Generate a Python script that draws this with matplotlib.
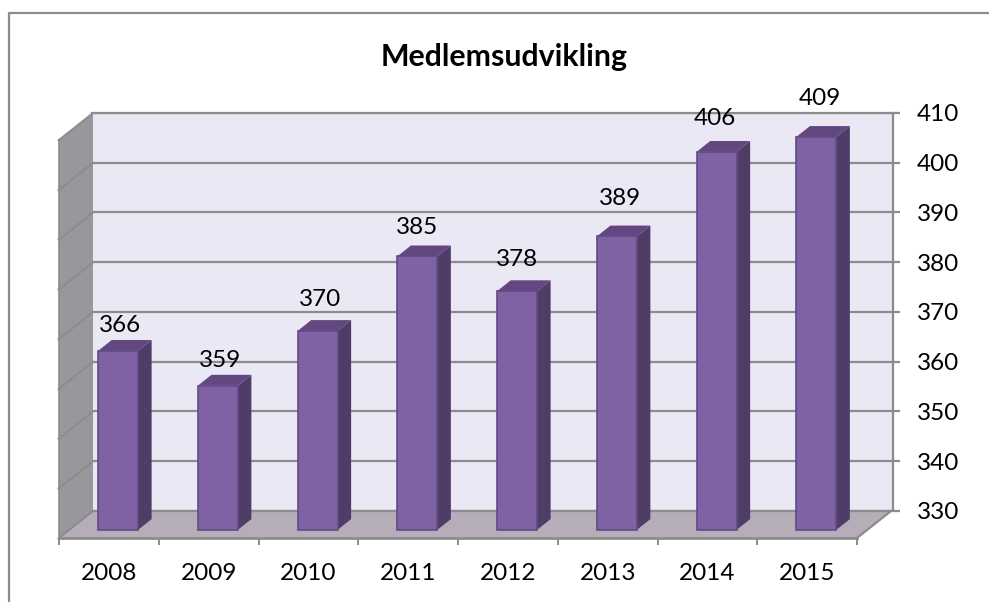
import matplotlib
matplotlib.use('Agg')
import matplotlib.pyplot as plt
from matplotlib.lines import Line2D
import numpy as np

years = ['2008', '2009', '2010', '2011', '2012', '2013', '2014', '2015']
members = [366, 359, 370, 385, 378, 389, 406, 409]
y_ticks = [330, 340, 350, 360, 370, 380, 390, 400, 410]

W, H = 989, 602
GREY = '#8c8c8c'

plt.rcParams['font.family'] = ['Lato', 'DejaVu Sans']


def box(left, top, right, bottom):
    return [left / W, 1 - bottom / H, (right - left) / W, (bottom - top) / H]


# depth of the fake 3d box, in data units of the front plane
DX = 34 / 99.75
DY = 27 / 4.975


def proj(x, v, z):
    return x + z * DX, v + z * DY


def face(ax, pts, **kw):
    xy = np.array([proj(*p) for p in pts])
    ax.fill(xy[:, 0], xy[:, 1], clip_on=False, **kw)


fig = plt.figure(figsize=(W / 100, H / 100), dpi=100)
fig.add_artist(Line2D([9 / W, 9 / W, 1], [0, 1 - 13 / H, 1 - 13 / H], color=GREY, lw=1.6))

# back wall, carries the value axis on the right
wall = fig.add_axes(box(92, 113, 893, 511))
wall.set_facecolor('#eae8f4')
wall.set_xlim(0, 8)
wall.set_ylim(330, 410)
wall.set_xticks([])
wall.set_yticks(y_ticks)
wall.yaxis.tick_right()
wall.grid(axis='y', color=GREY, lw=1.6)
wall.set_axisbelow(True)
wall.tick_params(axis='y', length=5, width=1.6, color=GREY, labelsize=17.5, pad=12, labelcolor='black')
for s in ['left', 'bottom']:
    wall.spines[s].set_visible(False)
for s in ['top', 'right']:
    wall.spines[s].set_color(GREY)
    wall.spines[s].set_linewidth(1.6)

# front plane, carries the category axis, side wall, floor and bars
ax = fig.add_axes(box(59, 140, 857, 538))
ax.patch.set_visible(False)
ax.set_xlim(0, 8)
ax.set_ylim(330, 410)
for s in ['top', 'right']:
    ax.spines[s].set_visible(False)
ax.spines['bottom'].set_color(GREY)
ax.spines['bottom'].set_linewidth(2)
ax.spines['left'].set_color(GREY)
ax.spines['left'].set_linewidth(1.2)

ax.set_xticks(range(9))
ax.set_xticks(np.arange(8) + 0.5, labels=years, minor=True)
ax.set_yticks(y_ticks)
ax.set_yticklabels([])
ax.tick_params(axis='x', which='major', length=5, width=1.4, color=GREY, labelbottom=False)
ax.tick_params(axis='x', which='minor', length=0, pad=18, labelsize=17.5)
ax.tick_params(axis='y', length=1.5, width=1, color=GREY)

# side wall and floor
face(ax, [(0, 330, 0), (0, 410, 0), (0, 410, 1), (0, 330, 1)], color='#97979c', zorder=1, lw=0)
face(ax, [(0, 330, 0), (8, 330, 0), (8, 330, 1), (0, 330, 1)], color='#b5adb8', zorder=1, lw=0)
for t in y_ticks:
    p0, p1 = proj(0, t, 0), proj(0, t, 1)
    ax.plot([p0[0], p1[0]], [p0[1], p1[1]], color=GREY, lw=1.4, clip_on=False, zorder=2)
p0, p1 = proj(8, 330, 0), proj(8, 330, 1)
ax.plot([p0[0], p1[0]], [p0[1], p1[1]], color=GREY, lw=1.6, clip_on=False, zorder=2)
p0, p1 = proj(0, 330, 1), proj(8, 330, 1)
ax.plot([p0[0], p1[0]], [p0[1], p1[1]], color=GREY, lw=1.6, clip_on=False, zorder=2)

# bars
z0, z1 = 0.3, 0.7
half = 0.2
label_dy = [25, 25, 31, 29, 32, 38, 33, 38]
label_dx = [2, 2, 2, 0, 0, 3, -2, 4]
for i, v in enumerate(members):
    c = i + 0.49
    l, r = c - half, c + half
    face(ax, [(r, 330, z0), (r, v, z0), (r, v, z1), (r, 330, z1)], color='#4f3d68', zorder=3, lw=0)
    face(ax, [(l, v, z0), (r, v, z0), (r, v, z1), (l, v, z1)], color='#634780', zorder=3, lw=0)
    face(ax, [(l, 330, z0), (r, 330, z0), (r, v, z0), (l, v, z0)], facecolor='#7e62a3',
         edgecolor='#604a86', lw=1.2, zorder=4)
    ax.annotate(str(v), xy=proj(c, v, z0), xytext=(label_dx[i], label_dy[i]),
                textcoords='offset pixels', ha='center', va='center', fontsize=17.5,
                annotation_clip=False, zorder=5)

fig.text(504 / W, 1 - 57 / H, 'Medlemsudvikling', ha='center', va='center', fontsize=21.8, fontweight='bold')

fig.savefig('out.png', dpi=100)
